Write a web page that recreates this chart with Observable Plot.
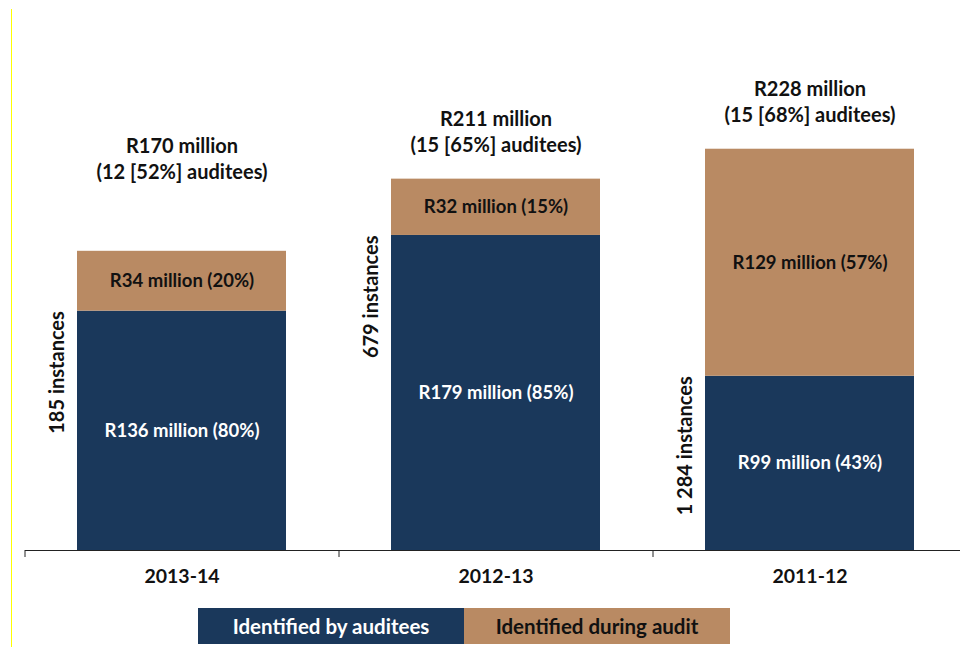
<!DOCTYPE html>
<html>
<head>
<meta charset="utf-8">
<script src="https://cdn.jsdelivr.net/npm/d3@7"></script>
<script src="https://cdn.jsdelivr.net/npm/@observablehq/plot@0.6"></script>
<style>
  html, body { margin: 0; padding: 0; background: #fff; }
  body { width: 960px; height: 647px; position: relative; overflow: hidden; font-family: Lato, "Open Sans", sans-serif; }
  #edge { position: absolute; left: 11px; top: 9px; width: 1px; height: 638px; background: #ffff00; }
  #chart { position: absolute; left: 0; top: 0; }
  #legend { position: absolute; left: 198px; top: 608px; display: flex; }
  #legend div { width: 266px; height: 36px; line-height: 36px; text-align: center; font-weight: bold; font-size: 20.5px; }
</style>
</head>
<body>
<div id="edge"></div>
<div id="chart"></div>
<div id="legend"></div>
<script>
const categories = ["2013-14", "2012-13", "2011-12"];
const seriesNames = ["Identified by auditees", "Identified during audit"];
const byAuditees = [136, 179, 99];
const byAuditeesPct = [80, 85, 43];
const duringAudit = [34, 32, 129];
const duringAuditPct = [20, 15, 57];
const totals = [170, 211, 228];
const auditeeCounts = [12, 15, 15];
const auditeePct = [52, 65, 68];
const instances = ["185", "679", "1 284"];
const colors = ["#1a385b", "#b98a63"];
const textColors = ["#ffffff", "#111111"];

const rows = [];
categories.forEach((c, i) => {
  rows.push({year: c, series: seriesNames[0], y1: 0, y2: byAuditees[i],
    label: `R${byAuditees[i]} million (${byAuditeesPct[i]}%)`});
  rows.push({year: c, series: seriesNames[1], y1: byAuditees[i], y2: byAuditees[i] + duringAudit[i],
    label: `R${duringAudit[i]} million (${duringAuditPct[i]}%)`});
});
const tops = categories.map((c, i) => ({
  year: c, total: totals[i], idx: i,
  line1: `R${totals[i]} million`,
  line2: `(${auditeeCounts[i]} [${auditeePct[i]}%] auditees)`,
  inst: `${instances[i]} instances`, navy: byAuditees[i]
}));

const W = 960, ML = 25, MR = -7;
const step = (W - ML - MR) / 3;
const barW = step * (2 / 3);

const font = "Lato, 'Open Sans', sans-serif";
const chart = Plot.plot({
  width: W,
  height: 600,
  marginTop: 22,
  marginBottom: 50,
  marginLeft: ML,
  marginRight: MR,
  style: {fontFamily: font, background: "transparent", overflow: "visible"},
  x: {domain: categories, paddingInner: 1 / 3, paddingOuter: 1 / 6, label: null},
  y: {domain: [0, 300], axis: null},
  color: {domain: seriesNames, range: colors},
  marks: [
    Plot.barY(rows, {x: "year", y1: "y1", y2: "y2", fill: "series"}),
    Plot.text(rows, {x: "year", y: d => (d.y1 + d.y2) / 2, text: "label",
      fill: d => textColors[seriesNames.indexOf(d.series)], fontSize: 18.5, fontWeight: "bold"}),
    Plot.text(tops.filter(d => d.idx === 0), {x: "year", y: "total", text: "line1", dy: -105, fontSize: 20, fontWeight: "bold", fill: "#111"}),
    Plot.text(tops.filter(d => d.idx === 0), {x: "year", y: "total", text: "line2", dy: -79, fontSize: 20, fontWeight: "bold", fill: "#111"}),
    Plot.text(tops.filter(d => d.idx > 0), {x: "year", y: "total", text: "line1", dy: -60, fontSize: 20, fontWeight: "bold", fill: "#111"}),
    Plot.text(tops.filter(d => d.idx > 0), {x: "year", y: "total", text: "line2", dy: -34, fontSize: 20, fontWeight: "bold", fill: "#111"}),
    Plot.text(tops, {x: "year", y: "navy", text: "inst", rotate: -90, textAnchor: "end",
      dx: -(barW / 2 + 20), fontSize: 20, fontWeight: "bold", fill: "#111"}),
    Plot.ruleY([0], {stroke: "#222", strokeWidth: 1}),
    Plot.ruleX(categories, {x: d => d, y1: 0, y2: 0, insetBottom: -7, dx: -step / 2, stroke: "#222"}),
    Plot.axisX({tickSize: 0, tickPadding: 19, fontSize: 19.5, fontWeight: "bold", fill: "#111", label: null})
  ]
});
document.getElementById("chart").appendChild(chart);

const legend = document.getElementById("legend");
seriesNames.forEach((s, i) => {
  const d = document.createElement("div");
  d.textContent = s;
  d.style.background = colors[i];
  d.style.color = textColors[i];
  legend.appendChild(d);
});
</script>
</body>
</html>
